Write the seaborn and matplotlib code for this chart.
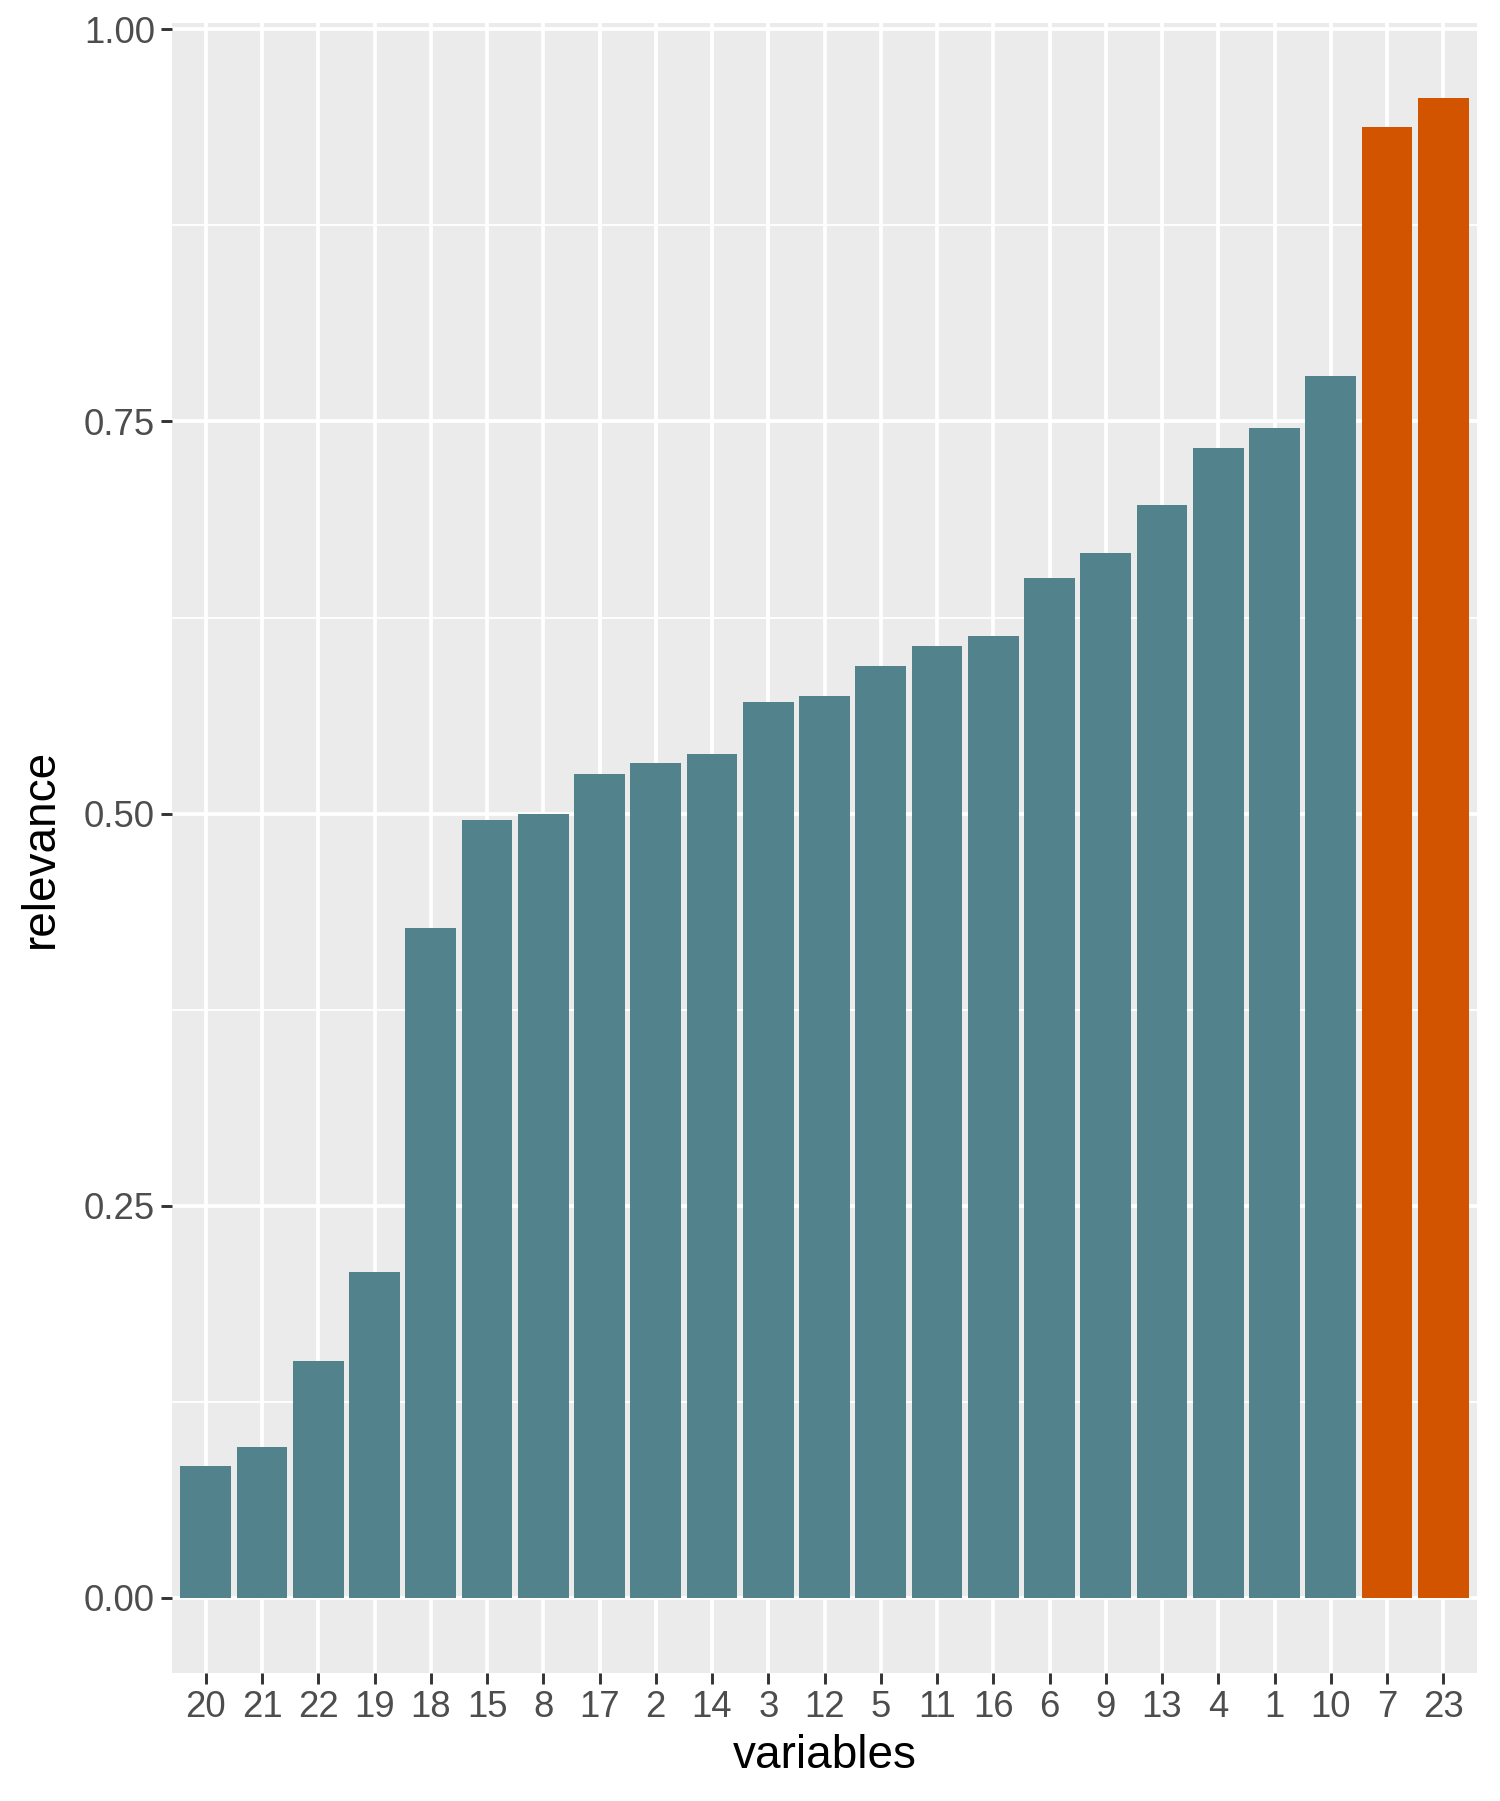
import matplotlib
matplotlib.use("Agg")
import matplotlib.pyplot as plt
import pandas as pd
import seaborn as sns
from matplotlib.ticker import MultipleLocator, FixedLocator

# bars in plotting order (ascending relevance)
variables = ["20", "21", "22", "19", "18", "15", "8", "17", "2", "14", "3", "12",
             "5", "11", "16", "6", "9", "13", "4", "1", "10", "7", "23"]
relevance = [0.084, 0.096, 0.151, 0.208, 0.427, 0.496, 0.500, 0.525, 0.532, 0.538,
             0.571, 0.575, 0.594, 0.607, 0.613, 0.650, 0.666, 0.697, 0.733, 0.746,
             0.779, 0.938, 0.956]
selected = ["7", "23"]

TEAL = "#52828B"
ORANGE = "#D35400"

df = pd.DataFrame({"variables": variables, "relevance": relevance})
df["group"] = ["sel" if v in selected else "other" for v in df["variables"]]

sns.set_style("darkgrid", {"axes.facecolor": "#EBEBEB", "grid.color": "white"})
plt.rcParams["font.family"] = ["Liberation Sans", "DejaVu Sans"]

fig = plt.figure(figsize=(10, 1801 / 150), dpi=150)
ax = fig.add_axes([0.1147, 0.0711, 0.87, 0.9161])

sns.barplot(data=df, x="variables", y="relevance", hue="group", order=variables,
            palette={"other": TEAL, "sel": ORANGE}, width=0.9, saturation=1,
            dodge=False, legend=False, ax=ax, zorder=3)
for p in ax.patches:
    p.set_edgecolor("none")

ax.set_xlim(-0.6, len(variables) - 0.4)
ax.set_ylim(-0.0478, 1.004)
ax.yaxis.set_major_locator(FixedLocator([0, 0.25, 0.5, 0.75, 1.0]))
ax.yaxis.set_minor_locator(MultipleLocator(0.125))
ax.set_yticklabels(["0.00", "0.25", "0.50", "0.75", "1.00"])

ax.grid(which="major", color="white", linewidth=1.8, zorder=0)
ax.grid(which="minor", axis="y", color="white", linewidth=0.9, zorder=0)
ax.set_axisbelow(True)
for s in ax.spines.values():
    s.set_visible(False)

ax.tick_params(axis="both", which="major", length=5.3, width=1.4, color="#333333",
               labelcolor="#4D4D4D", labelsize=17.5, pad=3, left=True, bottom=True)
ax.tick_params(axis="y", which="minor", length=0)

ax.set_xlabel("variables", fontsize=22, color="black", labelpad=4)
ax.set_ylabel("relevance", fontsize=22, color="black", labelpad=10)

fig.savefig("out.png", dpi=150, facecolor="white")
